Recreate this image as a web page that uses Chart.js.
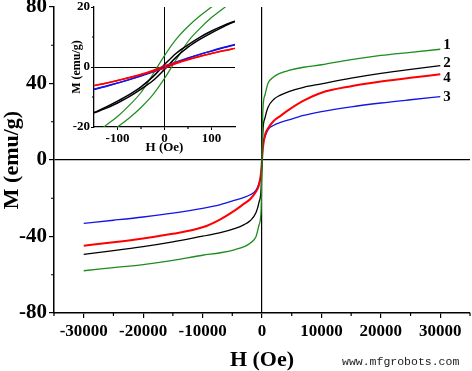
<!DOCTYPE html>
<html>
<head>
<meta charset="utf-8">
<script src="https://cdn.jsdelivr.net/npm/chart.js@4.4.0/dist/chart.umd.min.js"></script>
<style>
  html, body { margin: 0; padding: 0; background: #fff; }
  #wrap { position: relative; width: 472px; height: 371px; }
  #main { position: absolute; left: 0; top: 0; }
  #inset { position: absolute; left: 56px; top: 0; }
</style>
</head>
<body>
<div id="wrap">
  <canvas id="main" width="472" height="371"></canvas>
  <canvas id="inset" width="190" height="160"></canvas>
</div>
<script>
// main loops, H in Oe, M in emu/g
var fieldMain = [-30000, -25000, -20000, -15000, -10000, -7000, -4500, -3000, -2000, -1000, -500, -150, 0,
                 150, 500, 1000, 2000, 3000, 4500, 7000, 10000, 15000, 20000, 25000, 30000];
var sample1 = [-57.9, -56.3, -54.7, -52.5, -49.8, -48.5, -46.8, -45.3, -43.5, -40, -34, -26, 0,
               26, 34, 40, 43.5, 45.3, 46.8, 48.5, 49.8, 52.5, 54.7, 56.3, 57.9];
var sample2 = [-49.3, -47.4, -45.3, -42.8, -39.8, -38, -35.8, -33.8, -31.8, -27.5, -22, -15, 0,
               15, 22, 27.5, 31.8, 33.8, 35.8, 38, 39.8, 42.8, 45.3, 47.4, 49.3];
var sample3 = [-33.1, -31.5, -29.8, -27.8, -25.3, -23.3, -21, -19.5, -18.2, -15.8, -12, -7.5, 0,
               7.5, 12, 15.8, 18.2, 19.5, 21, 23.3, 25.3, 27.8, 29.8, 31.5, 33.1];
var sample4 = [-44.8, -43, -41, -38.6, -35.2, -31, -26.2, -22.8, -20.5, -16.5, -13, -6.3, 0,
               6.3, 13, 16.5, 20.5, 22.8, 26.2, 31, 35.2, 38.6, 41, 43, 44.8];

// inset: low field part of the loops, two branches each
var fieldInset = [-150, -125, -100, -75, -50, -25, 0, 25, 50, 75, 100, 125, 150];
var green_up   = [-22.5, -19.5, -16.5, -12.8, -8.5, -2.5, 3.8, 9.3, 13.5, 17, 20, 23, 25.5];
var green_down = [-25.5, -23, -20, -17, -13.5, -9.3, -3.8, 2.5, 8.5, 12.8, 16.5, 19.5, 22.5];
var black_up   = [-15.2, -13.4, -11.4, -9.2, -6.6, -3.3, 0.8, 4.6, 7.4, 9.9, 12, 13.8, 15.3];
var black_down = [-15.3, -13.8, -12, -9.9, -7.4, -4.6, -0.8, 3.3, 6.6, 9.2, 11.4, 13.4, 15.2];
var blue_up    = [-7.5, -6.5, -5.4, -4.2, -2.9, -1.4, 0.3, 1.7, 3, 4.2, 5.3, 6.4, 7.4];
var blue_down  = [-7.4, -6.4, -5.3, -4.2, -3, -1.7, -0.3, 1.4, 2.9, 4.2, 5.4, 6.5, 7.5];
var red_up     = [-6.2, -5.4, -4.5, -3.5, -2.4, -1.1, 0.4, 1.5, 2.6, 3.6, 4.5, 5.4, 6.2];
var red_down   = [-6.2, -5.4, -4.5, -3.6, -2.6, -1.5, -0.4, 1.1, 2.4, 3.5, 4.5, 5.4, 6.2];

var xTicksMain = [-30000, -20000, -10000, 0, 10000, 20000, 30000];
var xMinorMain = [-35000, -25000, -15000, -5000, 5000, 15000, 25000, 35000];
var yTicksMain = [-80, -40, 0, 40, 80];
var yMinorMain = [-60, -20, 20, 60];
var xTicksInset = [-100, 0, 100];
var xMinorInset = [-50, 50];
var yTicksInset = [-20, 0, 20];
var yMinorInset = [-10, 10];

var GREEN = '#1e8c1e', BLACK = '#000000', BLUE = '#1414e6', RED = '#ff0000';
var SERIF = '"Liberation Serif", "Times New Roman", serif';

function pts(xs, ys) {
  return xs.map(function(x, i) { return {x: x, y: ys[i]}; });
}

function line(label, xs, ys, color, w) {
  return {
    label: label, data: pts(xs, ys), borderColor: color, backgroundColor: color,
    borderWidth: w, showLine: true, pointRadius: 0, cubicInterpolationMode: 'monotone'
  };
}

function zeroLine(ctx) {
  return ctx.tick && ctx.tick.value === 0 ? '#000' : 'rgba(0,0,0,0)';
}

function minorTicks(xm, ym, len) {
  return {
    id: 'minorTicks',
    afterDraw: function(chart) {
      var c = chart.ctx, xs = chart.scales.x, ys = chart.scales.y;
      c.save();
      c.strokeStyle = '#000';
      c.lineWidth = 1.2;
      c.beginPath();
      xm.forEach(function(v) {
        var px = xs.getPixelForValue(v);
        c.moveTo(px, xs.top); c.lineTo(px, xs.top + len);
      });
      ym.forEach(function(v) {
        var py = ys.getPixelForValue(v);
        c.moveTo(ys.right, py); c.lineTo(ys.right - len, py);
      });
      c.stroke();
      c.restore();
    }
  };
}

// numbers at the right end of each curve
var curveTags = {
  id: 'curveTags',
  afterDatasetsDraw: function(chart) {
    var c = chart.ctx, xs = chart.scales.x, ys = chart.scales.y;
    c.save();
    c.font = 'bold 15px ' + SERIF;
    c.fillStyle = '#000';
    c.textBaseline = 'middle';
    chart.data.datasets.forEach(function(ds) {
      var last = ds.data[ds.data.length - 1];
      c.fillText(ds.label, xs.getPixelForValue(last.x) + 3, ys.getPixelForValue(last.y) + ds.tagShift);
    });
    c.restore();
  }
};

var watermark = {
  id: 'watermark',
  afterDraw: function(chart) {
    var c = chart.ctx;
    c.save();
    c.font = '11.5px "Liberation Mono", monospace';
    c.fillStyle = '#222';
    c.textBaseline = 'middle';
    c.fillText('www.mfgrobots.com', 342, 362);
    c.restore();
  }
};

function noPad(s) {
  s.paddingTop = 0; s.paddingBottom = 0; s.paddingLeft = 0; s.paddingRight = 0;
}

var mainSets = [
  line('1', fieldMain, sample1, GREEN, 1.3),
  line('2', fieldMain, sample2, BLACK, 1.3),
  line('4', fieldMain, sample4, RED, 2),
  line('3', fieldMain, sample3, BLUE, 1.3)
];
mainSets[0].tagShift = -4;
mainSets[1].tagShift = -3;
mainSets[2].tagShift = 4;
mainSets[3].tagShift = 0;

new Chart(document.getElementById('main'), {
  type: 'scatter',
  data: { datasets: mainSets },
  options: {
    responsive: false, animation: false,
    layout: { padding: { top: 7, right: 2, left: 0, bottom: 0 } },
    plugins: { legend: { display: false }, tooltip: { enabled: false } },
    scales: {
      x: {
        type: 'linear', min: -35000, max: 35000,
        afterBuildTicks: function(s) { s.ticks = xTicksMain.map(function(v) { return {value: v}; }); },
        afterFit: function(s) { s.height = 58; noPad(s); },
        grid: { drawOnChartArea: true, drawTicks: true, tickLength: 5, tickColor: '#000', tickWidth: 1.2,
                color: zeroLine, lineWidth: 1.2 },
        border: { display: true, color: '#000', width: 1.5 },
        ticks: { color: '#000', padding: 3, maxRotation: 0, autoSkip: false,
                 font: { family: SERIF, size: 17, weight: 'bold' },
                 callback: function(v) { return String(v); } },
        title: { display: true, text: 'H (Oe)', color: '#000', padding: { top: 0, bottom: 0 },
                 font: { family: SERIF, size: 22, weight: 'bold', lineHeight: 1 } }
      },
      y: {
        type: 'linear', min: -80, max: 80,
        afterBuildTicks: function(s) { s.ticks = yTicksMain.map(function(v) { return {value: v}; }); },
        afterFit: function(s) { s.width = 54; noPad(s); },
        grid: { drawOnChartArea: true, drawTicks: true, tickLength: 5, tickColor: '#000', tickWidth: 1.2,
                color: zeroLine, lineWidth: 1.2 },
        border: { display: true, color: '#000', width: 1.5 },
        ticks: { color: '#000', padding: 2,
                 font: { family: SERIF, size: 21, weight: 'bold' },
                 callback: function(v) { return String(v); } },
        title: { display: true, text: 'M (emu/g)', color: '#000', padding: { top: 1, bottom: 0 },
                 font: { family: SERIF, size: 22, weight: 'bold', lineHeight: 1 } }
      }
    }
  },
  plugins: [minorTicks(xMinorMain, yMinorMain, 3), curveTags, watermark]
});

new Chart(document.getElementById('inset'), {
  type: 'scatter',
  data: {
    datasets: [
      line('red+', fieldInset, red_up, RED, 1.4),
      line('red-', fieldInset, red_down, RED, 1.4),
      line('blue+', fieldInset, blue_up, BLUE, 1.4),
      line('blue-', fieldInset, blue_down, BLUE, 1.4),
      line('black+', fieldInset, black_up, BLACK, 1.5),
      line('black-', fieldInset, black_down, BLACK, 1.5),
      line('green+', fieldInset, green_up, GREEN, 1.2),
      line('green-', fieldInset, green_down, GREEN, 1.2)
    ]
  },
  options: {
    responsive: false, animation: false,
    layout: { padding: { top: 7, right: 11, left: 0, bottom: 0 } },
    plugins: { legend: { display: false }, tooltip: { enabled: false } },
    scales: {
      x: {
        type: 'linear', min: -150, max: 150,
        afterBuildTicks: function(s) { s.ticks = xTicksInset.map(function(v) { return {value: v}; }); },
        afterFit: function(s) { s.height = 33; noPad(s); },
        grid: { drawOnChartArea: true, drawTicks: true, tickLength: 3, tickColor: '#000', tickWidth: 1,
                color: zeroLine, lineWidth: 1 },
        border: { display: true, color: '#000', width: 1.3 },
        ticks: { color: '#000', padding: 1, maxRotation: 0, autoSkip: false,
                 font: { family: SERIF, size: 13, weight: 'bold' },
                 callback: function(v) { return String(v); } },
        title: { display: true, text: 'H (Oe)', color: '#000', padding: { top: 0, bottom: 5 },
                 font: { family: SERIF, size: 13, weight: 'bold', lineHeight: 1.2 } }
      },
      y: {
        type: 'linear', min: -20, max: 20,
        afterBuildTicks: function(s) { s.ticks = yTicksInset.map(function(v) { return {value: v}; }); },
        afterFit: function(s) { s.width = 38; noPad(s); },
        grid: { drawOnChartArea: true, drawTicks: true, tickLength: 3, tickColor: '#000', tickWidth: 1,
                color: zeroLine, lineWidth: 1 },
        border: { display: true, color: '#000', width: 1.3 },
        ticks: { color: '#000', padding: 1,
                 font: { family: SERIF, size: 13, weight: 'bold' },
                 callback: function(v) { return String(v); } },
        title: { display: true, text: 'M (emu/g)', color: '#000', padding: { top: 14, bottom: 0 },
                 font: { family: SERIF, size: 12, weight: 'bold', lineHeight: 1.2 } }
      }
    }
  },
  plugins: [minorTicks(xMinorInset, yMinorInset, 2)]
});
</script>
</body>
</html>
